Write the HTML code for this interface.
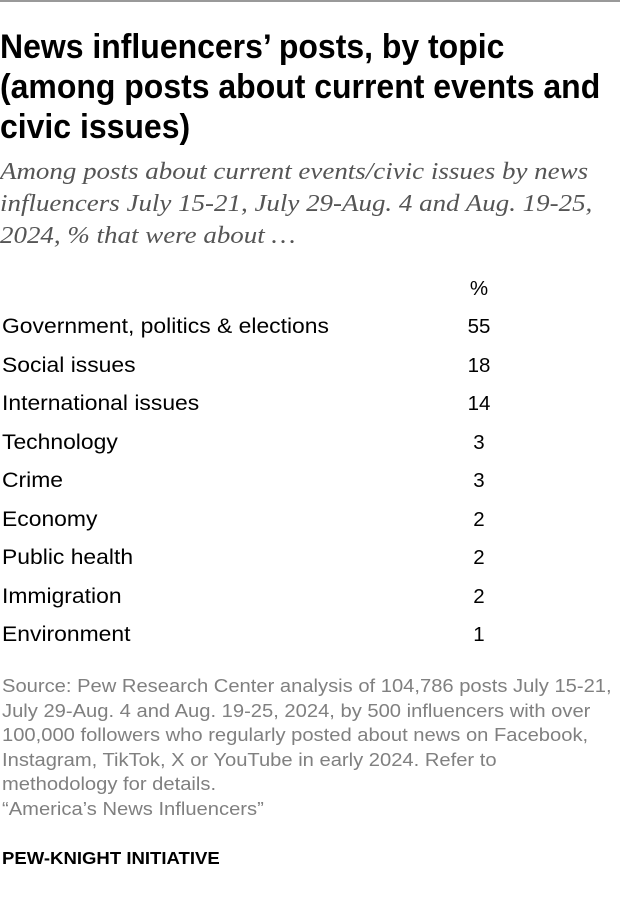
<!DOCTYPE html>
<html><head><meta charset="utf-8"><style>
body{margin:0;width:620px;height:902px;background:#fff;position:relative;overflow:hidden;font-family:"Liberation Sans",sans-serif;color:#000}
.t{position:absolute;left:0;white-space:nowrap;transform-origin:0 0}
.title{font-weight:bold;font-size:34px;line-height:40px;top:27px;transform:scaleX(0.94)}
.sub{font-family:"Liberation Serif",serif;font-style:italic;font-size:24.5px;line-height:32px;color:#555;top:156px;transform:scaleX(1.1)}
.row{position:absolute;left:2px;font-size:21px;height:38.5px;line-height:38.5px;white-space:nowrap;transform-origin:0 0;transform:scaleX(1.09)}
.num{position:absolute;left:440px;width:78px;text-align:center;font-size:20.5px;line-height:38.5px}
.foot{font-size:18px;line-height:24.5px;color:#808080;top:674px;left:2px;transform:scaleX(1.12)}
</style></head><body>
<div style="position:absolute;left:0;top:0;width:620px;height:2px;background:#999"></div>
<div class="t title">News influencers’ posts, by topic<br>(among posts about current events and<br>civic issues)</div>
<div class="t sub">Among posts about current events/civic issues by news<br>influencers July 15-21, July 29-Aug. 4 and Aug. 19-25,<br>2024, % that were about …</div>
<div class="num" style="top:270px">%</div>
<div class="row" style="top:308px">Government, politics &amp; elections</div><div class="num" style="top:308px">55</div>
<div class="row" style="top:346.5px">Social issues</div><div class="num" style="top:346.5px">18</div>
<div class="row" style="top:385px">International issues</div><div class="num" style="top:385px">14</div>
<div class="row" style="top:423.5px">Technology</div><div class="num" style="top:423.5px">3</div>
<div class="row" style="top:462px">Crime</div><div class="num" style="top:462px">3</div>
<div class="row" style="top:500.5px">Economy</div><div class="num" style="top:500.5px">2</div>
<div class="row" style="top:539px">Public health</div><div class="num" style="top:539px">2</div>
<div class="row" style="top:577.5px">Immigration</div><div class="num" style="top:577.5px">2</div>
<div class="row" style="top:616px">Environment</div><div class="num" style="top:616px">1</div>
<div class="t foot">Source: Pew Research Center analysis of 104,786 posts July 15-21,<br>July 29-Aug. 4 and Aug. 19-25, 2024, by 500 influencers with over<br>100,000 followers who regularly posted about news on Facebook,<br>Instagram, TikTok, X or YouTube in early 2024. Refer to<br>methodology for details.<br>“America’s News Influencers”</div>
<div class="t" style="top:846px;left:2px;font-weight:bold;font-size:17.5px;line-height:24px;transform:scaleX(1.06)">PEW-KNIGHT INITIATIVE</div>
</body></html>
